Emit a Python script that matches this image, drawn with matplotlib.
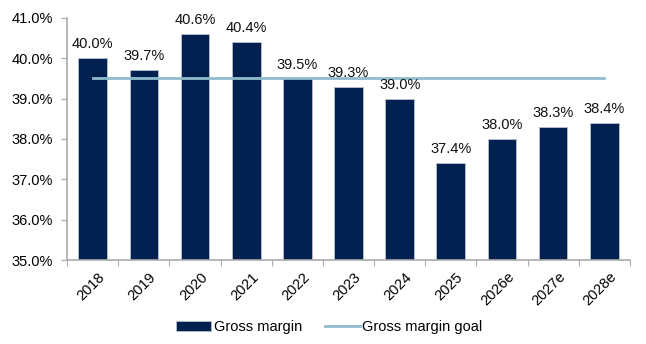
import matplotlib.pyplot as plt
import numpy as np
from matplotlib.ticker import FuncFormatter

years = ['2018', '2019', '2020', '2021', '2022', '2023', '2024', '2025', '2026e', '2027e', '2028e']
gross_margin = [40.0, 39.7, 40.6, 40.4, 39.5, 39.3, 39.0, 37.4, 38.0, 38.3, 38.4]
goal = [39.5] * len(years)

plt.rcParams['font.family'] = ['Liberation Sans', 'DejaVu Sans']
fs = 10.5

fig = plt.figure(figsize=(6.46, 3.44), dpi=100)
ax = fig.add_axes([0.104, 0.244, 0.871, 0.704])

x = np.arange(len(years))
bars = ax.bar(x, gross_margin, width=0.56, color='#022150', edgecolor='#b8bfcc', linewidth=0.6,
              label='Gross margin', zorder=2)
line, = ax.plot(x, goal, color='#8fbccc', linewidth=2, label='Gross margin goal', zorder=3)

for xi, v in zip(x, gross_margin):
    ax.text(xi, v + 0.17, '%.1f%%' % v, ha='center', va='bottom', fontsize=fs, color='#111111')

ax.set_ylim(35, 41)
ax.set_xlim(-0.5, len(years) - 0.5)
ax.set_yticks(np.arange(35, 41.1, 1))
ax.yaxis.set_major_formatter(FuncFormatter(lambda v, p: '%.1f%%' % v))

# ticks sit between categories
ax.set_xticks(np.arange(-0.5, len(years), 1))
ax.set_xticklabels([])
ax.set_xticks(x + 0.1, minor=True)
ax.set_xticklabels(years, minor=True, rotation=45, ha='right', rotation_mode='anchor', fontsize=fs)
ax.tick_params(axis='x', which='minor', length=0, pad=7)
ax.tick_params(axis='x', which='major', length=4, color='#aaaaaa', direction='out')
ax.tick_params(axis='y', length=4, color='#aaaaaa', labelsize=fs, pad=6)

for s in ['top', 'right']:
    ax.spines[s].set_visible(False)
for s in ['left', 'bottom']:
    ax.spines[s].set_color('#aaaaaa')
    ax.spines[s].set_linewidth(1.2)

fig.legend([bars, line], ['Gross margin', 'Gross margin goal'], loc='center',
           bbox_to_anchor=(0.51, 0.05), ncol=2, frameon=False, fontsize=fs,
           handlelength=2.4, handletextpad=0.15, columnspacing=1.6)

fig.savefig('out.png', dpi=100)
